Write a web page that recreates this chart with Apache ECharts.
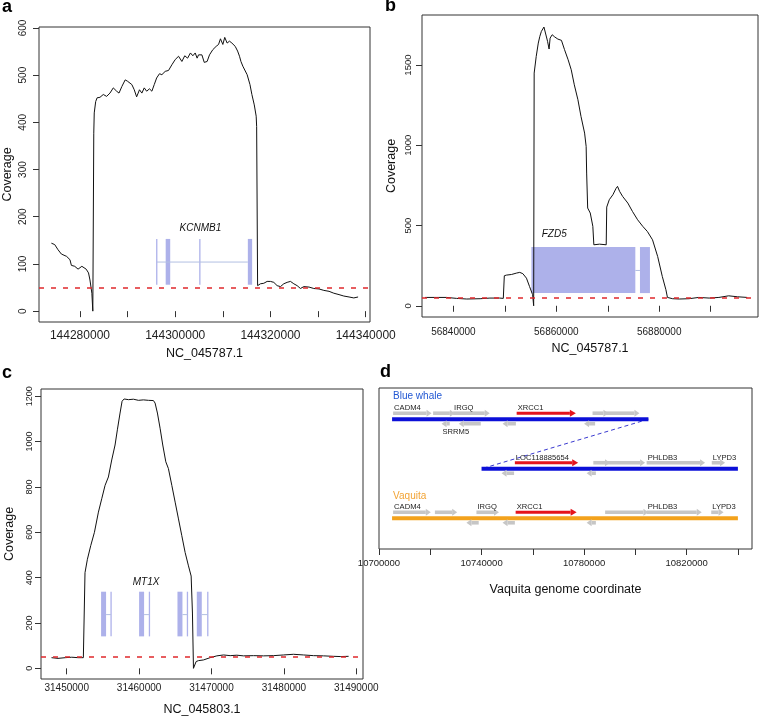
<!DOCTYPE html>
<html><head><meta charset="utf-8">
<script src="https://cdn.jsdelivr.net/npm/echarts@6/dist/echarts.min.js"></script>
<style>html,body{margin:0;padding:0;background:#fff}#c{width:760px;height:728px}</style>
</head><body><div id="c"></div>
<script>
// ---------- Panel a : KCNMB1 (NC_045787.1) ----------
const posA = [144274000,144274700,144275400,144276100,144277200,144277900,144278200,144278900,144279600,144280000,144280400,144280700,144281300,144281800,144282100,144282500,144282700,144282900,144283000,144283300,144283600,144284200,144284900,144285600,144286300,144287000,144287700,144288200,144288800,144289500,144290000,144290900,144291400,144291900,144292500,144293000,144293500,144294000,144294600,144295100,144295600,144296100,144296700,144297200,144297900,144298600,144299300,144300000,144300700,144301400,144302000,144302600,144303200,144303700,144304200,144304600,144304900,144305600,144306100,144306700,144307200,144307900,144308600,144309100,144309500,144309800,144310000,144310400,144310900,144311400,144311900,144312300,144312600,144313100,144313500,144313800,144314200,144314600,144315100,144315700,144316100,144316600,144317000,144317100,144317300,144317900,144318600,144319300,144320000,144320700,144321400,144322100,144322800,144323500,144324200,144324900,144325600,144326300,144327000,144328100,144329100,144330200,144331200,144332300,144333300,144334400,144335400,144336500,144337500,144338400];
const covA = [144,141,130,121,116,109,97,95,89,90,95,95,89,81,66,38,0,377,420,444,452,453,459,455,462,473,466,462,476,490,487,480,469,454,469,462,473,466,471,466,480,494,503,501,508,510,522,533,540,529,541,536,547,541,547,536,543,543,527,529,543,554,561,565,577,576,565,580,568,572,568,572,561,551,540,529,519,515,501,480,459,437,413,391,54,58,59,63,63,61,54,52,58,61,63,58,54,48,52,51,48,47,44,42,38,35,32,30,28,30];
const xTicksA = [144280000,144290000,144300000,144310000,144320000,144330000,144340000];
const xLabelsA = [144280000,144300000,144320000,144340000];
const yTicksA = [0,100,200,300,400,500,600];
const exonStartA = [144296050,144298000,144305050,144315250];
const exonEndA = [144296200,144298950,144305300,144316150];
const exonLowA = 56, exonHighA = 153;
const intronStartA = [144296150], intronEndA = [144315250], intronYA = 104;
const geneNameA = 'KCNMB1', geneLabelXA = 144305300, geneLabelYA = 176;

// ---------- Panel b : FZD5 (NC_045787.1) ----------
const posB = [56834500,56836800,56838700,56840600,56842600,56845200,56847100,56849000,56849700,56849900,56850300,56851300,56852300,56852900,56853500,56854200,56854800,56855400,56855600,56855700,56856100,56856500,56856800,56857100,56857600,56857900,56858300,56858600,56858800,56859200,56859700,56860300,56861000,56861600,56862300,56862900,56863500,56864200,56864800,56865500,56865800,56865900,56866100,56866600,56867100,56867300,56868400,56869700,56869800,56870300,56871000,56871600,56871900,56872300,56872900,56873900,56874800,56875800,56876800,56877700,56878700,56879700,56880600,56881300,56881600,56882600,56883900,56885800,56887700,56889700,56891600,56893500,56895200,56897100];
const covB = [52,52,52,46,42,44,48,48,46,187,191,195,204,208,200,172,120,69,0,1450,1554,1637,1679,1710,1737,1741,1648,1600,1668,1689,1675,1662,1654,1596,1533,1471,1377,1284,1180,1076,993,827,609,578,495,380,384,380,615,661,692,731,744,713,681,640,588,536,495,463,411,307,183,100,52,44,42,44,52,48,52,62,56,52];
const xTicksB = [56840000,56850000,56860000,56870000,56880000,56890000];
const xLabelsB = [56840000,56860000,56880000];
const yTicksB = [0,500,1000,1500];
const exonStartB = [56855160,56876260];
const exonEndB = [56875360,56878200];
const exonLowB = 79, exonHighB = 366;
const intronStartB = [56875360], intronEndB = [56876260], intronYB = 220;
const geneNameB = 'FZD5', geneLabelXB = 56859600, geneLabelYB = 447;

// ---------- Panel c : MT1X (NC_045803.1) ----------
const posC = [31447900,31448800,31449800,31450700,31451600,31452300,31452440,31452530,31452860,31453320,31453830,31454380,31454840,31455300,31455760,31456220,31456680,31457000,31457370,31457650,31457930,31458530,31459220,31459910,31460600,31461290,31461980,31462210,31462530,31462900,31463270,31463690,31464050,31464520,31464980,31465440,31465900,31466360,31466820,31467190,31467370,31467510,31467740,31467880,31468200,31468890,31469810,31470740,31471660,31472580,31473500,31474420,31475810,31477190,31478570,31479950,31481330,31482720,31484100,31485480,31486860,31487790,31488940];
const covC = [47,44,47,49,47,47,52,422,481,541,600,689,748,807,844,919,985,1052,1126,1178,1188,1185,1187,1182,1184,1182,1181,1170,1126,1059,985,911,881,807,733,659,585,511,452,407,244,0,0,30,34,37,47,55,59,56,58,55,56,55,56,59,62,59,56,55,53,52,53];
const xTicksC = [31450000,31460000,31470000,31480000,31490000];
const xLabelsC = [31450000,31460000,31470000,31480000,31490000];
const yTicksC = [0,200,400,600,800,1000,1200];
const exonStartC = [31454750,31456080,31460000,31461380,31465300,31466630,31467970,31469440];
const exonEndC = [31455440,31456180,31460690,31461480,31465990,31466730,31468660,31469540];
const exonLowC = 141, exonHighC = 338;
const intronStartC = [31455440,31460690,31465990,31468660];
const intronEndC = [31456130,31461430,31466680,31469490];
const intronYC = 237;
const geneNameC = 'MT1X', geneLabelXC = 31460970, geneLabelYC = 381;

const threshold = 50;

// ---------- Panel d : synteny ----------
const xTicksD = [10700000,10720000,10740000,10760000,10780000,10800000,10820000,10840000];
const xLabelsD = [10700000,10740000,10780000,10820000];
const trackRow = [3,2,1];
const trackStart = [10705100,10740000,10705100];
const trackEnd = [10805100,10840000,10840000];
const trackSpecies = ['blue','blue','orange'];
const speciesName = ['Blue whale','Vaquita'];
const speciesRow = [3,1];
const speciesX = [10705100,10705100];
const speciesKey = ['blue','orange'];
const connectorX = [10805100,10740000];
const connectorRow = [3,2];
const gStart  = [10705500,10721100,10728900,10724400,10731100,10748200,10753700,10780000,10783300,10788200, 10753000,10747800,10781000,10783600,10788800,10804400,10829800, 10705500,10721800,10738000,10753300,10788200,10804400,10829600,10734100,10748200,10781000];
const gEnd    = [10720500,10729600,10743200,10727600,10739700,10753400,10776800,10784300,10789500,10801600, 10777700,10752700,10784600,10790100,10803800,10827200,10835000, 10720200,10730500,10746800,10777100,10805100,10825900,10834400,10738900,10753000,10784600];
const gRow    = [3,3,3,3,3,3,3,3,3,3, 2,2,2,2,2,2,2, 1,1,1,1,1,1,1,1,1,1];
const gStrand = [1,1,1,-1,-1,-1,1,-1,1,1, 1,-1,-1,1,1,1,1, 1,1,1,1,1,1,1,-1,-1,-1];
const gName   = ['CADM4','','IRGQ','SRRM5','','','XRCC1','','','', 'LOC118885654','','','','','PHLDB3','LYPD3', 'CADM4','','IRGQ','XRCC1','','PHLDB3','LYPD3','','',''];
const gFocus  = [0,0,0,0,0,0,1,0,0,0, 1,0,0,0,0,0,0, 0,0,0,1,0,0,0,0,0,0];

// ---------- styling ----------
const FONT = '"Liberation Sans", Arial, Helvetica, sans-serif';
const COLORS = {blue:'#0c10d8', orange:'#f3a21c', speciesBlue:'#2157d3', speciesOrange:'#f2a334',
  exon:'#adb1ea', intron:'#b2bfe2', red:'#e5141c', gray:'#c6c6c6', thr:'#e0282c'};

function pairs(xs, ys){ return xs.map((x,i)=>[x, ys[i]]); }

function exonRender(low, high){
  return function(params, api){
    const s = api.value(0), e = api.value(1);
    const p1 = api.coord([s, high]), p2 = api.coord([e, low]);
    let x = p1[0], w = p2[0]-p1[0];
    if (w < 1.3){ x = (p1[0]+p2[0])/2 - 0.65; w = 1.3; }
    return {type:'rect', shape:{x:x, y:p1[1], width:w, height:p2[1]-p1[1]}, style:{fill:COLORS.exon}};
  };
}
function intronRender(y){
  return function(params, api){
    const p1 = api.coord([api.value(0), y]), p2 = api.coord([api.value(1), y]);
    return {type:'line', shape:{x1:p1[0], y1:p1[1], x2:p2[0], y2:p2[1]}, style:{stroke:COLORS.intron, lineWidth:1}};
  };
}
function labelRender(name, x, y){
  return function(params, api){
    const p = api.coord([x, y]);
    return {type:'text', style:{x:p[0], y:p[1], text:name, fill:'#111', font:'italic 10px '+FONT, align:'center', verticalAlign:'middle', textAlign:'center', textVerticalAlign:'middle'}};
  };
}

function coverageSeries(idx, xs, ys){
  return {type:'line', xAxisIndex:idx, yAxisIndex:idx, data:pairs(xs, ys), symbol:'none', showSymbol:false,
    lineStyle:{color:'#111', width:1}, z:3, animation:false,
    markLine:{silent:true, symbol:['none','none'], label:{show:false}, animation:false,
      lineStyle:{color:COLORS.thr, type:[5,7], width:1.6}, data:[{yAxis:threshold}]}};
}
function geneSeries(idx, starts, ends, low, high, iS, iE, iY, name, lx, ly){
  return [
    {type:'custom', xAxisIndex:idx, yAxisIndex:idx, z:1, clip:true, renderItem:exonRender(low, high),
      data:starts.map((s,i)=>[s, ends[i]])},
    {type:'custom', xAxisIndex:idx, yAxisIndex:idx, z:1, clip:true, renderItem:intronRender(iY),
      data:iS.map((s,i)=>[s, iE[i]])},
    {type:'custom', xAxisIndex:idx, yAxisIndex:idx, z:4, renderItem:labelRender(name, lx, ly), data:[[lx, ly]]}
  ];
}

function xAxisCfg(idx, min, max, ticks, labels, name, fs, margin, gap){
  return {gridIndex:idx, type:'value', min:min, max:max, scale:true,
    axisLine:{show:false}, splitLine:{show:false},
    axisTick:{show:true, length:6, lineStyle:{color:'#333'}, customValues:ticks},
    axisLabel:{customValues:labels, formatter:v=>String(v), fontSize:fs, color:'#222', margin:margin, fontFamily:FONT},
    name:name, nameLocation:'middle', nameGap:gap, nameTextStyle:{fontSize:12.5, color:'#111', fontFamily:FONT}};
}
function yAxisCfg(idx, min, max, ticks, fs, margin, gap){
  return {gridIndex:idx, type:'value', min:min, max:max,
    axisLine:{show:false}, splitLine:{show:false},
    axisTick:{show:true, length:6, lineStyle:{color:'#333'}, customValues:ticks},
    axisLabel:{customValues:ticks, rotate:90, formatter:v=>String(v), fontSize:fs, color:'#222', margin:margin, fontFamily:FONT},
    name:'Coverage', nameLocation:'middle', nameRotate:90, nameGap:gap, nameTextStyle:{fontSize:12.5, color:'#111', fontFamily:FONT}};
}

const gridStyle = {show:true, borderColor:'#333', borderWidth:1, backgroundColor:'transparent'};

// Panel d renderers
function trackRender(params, api){
  const i = params.dataIndex;
  const p1 = api.coord([trackStart[i], trackRow[i]]), p2 = api.coord([trackEnd[i], trackRow[i]]);
  return {type:'line', shape:{x1:p1[0], y1:p1[1], x2:p2[0], y2:p2[1]},
    style:{stroke:COLORS[trackSpecies[i]], lineWidth:4, lineCap:'butt'}};
}
function geneArrowRender(params, api){
  const i = params.dataIndex;
  const s = api.coord([gStart[i], gRow[i]]), e = api.coord([gEnd[i], gRow[i]]);
  const fwd = gStrand[i] > 0;
  const focus = gFocus[i] === 1;
  const col = focus ? COLORS.red : COLORS.gray;
  const yc = s[1] + (fwd ? -6 : 4.5);
  const bh = focus ? 3 : 3.6, hh = 7, hl = focus ? 6 : 5;
  const x1 = s[0], x2 = e[0];
  const ch = [];
  if (fwd){
    ch.push({type:'rect', shape:{x:x1, y:yc-bh/2, width:Math.max(x2-hl-x1,0.5), height:bh}, style:{fill:col}});
    ch.push({type:'polygon', shape:{points:[[x2-hl,yc-hh/2],[x2,yc],[x2-hl,yc+hh/2]]}, style:{fill:col}});
  } else {
    ch.push({type:'rect', shape:{x:x1+hl, y:yc-bh/2, width:Math.max(x2-x1-hl,0.5), height:bh}, style:{fill:col}});
    ch.push({type:'polygon', shape:{points:[[x1+hl,yc-hh/2],[x1,yc],[x1+hl,yc+hh/2]]}, style:{fill:col}});
  }
  return {type:'group', children:ch};
}
function geneNameRender(params, api){
  const i = params.dataIndex;
  if (!gName[i]) return null;
  const s = api.coord([gStart[i], gRow[i]]);
  const fwd = gStrand[i] > 0;
  const y = fwd ? s[1]-11 : s[1]+12.5;
  return {type:'text', style:{x:s[0]+1, y:y, text:gName[i], fill:'#222', font:'7.6px '+FONT,
    align:'left', verticalAlign:'middle', textAlign:'left', textVerticalAlign:'middle'}};
}
function speciesRender(params, api){
  const i = params.dataIndex;
  const p = api.coord([speciesX[i], speciesRow[i]]);
  return {type:'text', style:{x:p[0]+1, y:p[1]-22.5, text:speciesName[i],
    fill: speciesKey[i]==='blue' ? COLORS.speciesBlue : COLORS.speciesOrange,
    font:'10px '+FONT, align:'left', verticalAlign:'middle', textAlign:'left', textVerticalAlign:'middle'}};
}

const option = {
  animation:false,
  backgroundColor:'#fff',
  grid:[
    Object.assign({left:39, top:27, width:331, height:295}, gridStyle),
    Object.assign({left:422, top:15, width:336, height:302}, gridStyle),
    Object.assign({left:41, top:389, width:322, height:290}, gridStyle),
    Object.assign({left:379, top:388, width:373, height:161}, gridStyle)
  ],
  xAxis:[
    xAxisCfg(0, 144271400, 144340900, xTicksA, xLabelsA, 'NC_045787.1', 12, 8, 25),
    xAxisCfg(1, 56833900, 56899200, xTicksB, xLabelsB, 'NC_045787.1', 10, 10, 25),
    xAxisCfg(2, 31446450, 31490930, xTicksC, xLabelsC, 'NC_045803.1', 10, 4, 24),
    xAxisCfg(3, 10700000, 10845500, xTicksD, xLabelsD, 'Vaquita genome coordinate', 9.5, 9, 34)
  ],
  yAxis:[
    yAxisCfg(0, -23, 602, yTicksA, 10, 11, 25),
    yAxisCfg(1, -70, 1812, yTicksB, 9.5, 9, 24),
    yAxisCfg(2, -47, 1232, yTicksC, 9, 7, 25),
    {gridIndex:3, type:'value', min:0.38, max:3.63, show:false}
  ],
  series:[].concat(
    [coverageSeries(0, posA, covA)],
    geneSeries(0, exonStartA, exonEndA, exonLowA, exonHighA, intronStartA, intronEndA, intronYA, geneNameA, geneLabelXA, geneLabelYA),
    [coverageSeries(1, posB, covB)],
    geneSeries(1, exonStartB, exonEndB, exonLowB, exonHighB, intronStartB, intronEndB, intronYB, geneNameB, geneLabelXB, geneLabelYB),
    [coverageSeries(2, posC, covC)],
    geneSeries(2, exonStartC, exonEndC, exonLowC, exonHighC, intronStartC, intronEndC, intronYC, geneNameC, geneLabelXC, geneLabelYC),
    [
      {type:'line', xAxisIndex:3, yAxisIndex:3, data:pairs(connectorX, connectorRow), symbol:'none', z:1,
        lineStyle:{color:'#3a3ad0', width:1, type:[4,3]}},
      {type:'custom', xAxisIndex:3, yAxisIndex:3, z:2, renderItem:trackRender,
        data:trackStart.map((s,i)=>[s, trackEnd[i], trackRow[i]])},
      {type:'custom', xAxisIndex:3, yAxisIndex:3, z:3, renderItem:geneArrowRender,
        data:gStart.map((s,i)=>[s, gEnd[i], gRow[i]])},
      {type:'custom', xAxisIndex:3, yAxisIndex:3, z:4, renderItem:geneNameRender,
        data:gStart.map((s,i)=>[s, gRow[i]])},
      {type:'custom', xAxisIndex:3, yAxisIndex:3, z:4, renderItem:speciesRender,
        data:speciesX.map((s,i)=>[s, speciesRow[i]])}
    ]
  ),
  graphic:[
    {type:'text', left:2, top:-2, style:{text:'a', font:'bold 18px '+FONT, fill:'#000'}},
    {type:'text', left:385, top:-3, style:{text:'b', font:'bold 18px '+FONT, fill:'#000'}},
    {type:'text', left:2, top:364, style:{text:'c', font:'bold 18px '+FONT, fill:'#000'}},
    {type:'text', left:380, top:363, style:{text:'d', font:'bold 18px '+FONT, fill:'#000'}}
  ]
};
const chart = echarts.init(document.getElementById('c'), null, {renderer:'canvas'});
chart.setOption(option);
</script></body></html>
